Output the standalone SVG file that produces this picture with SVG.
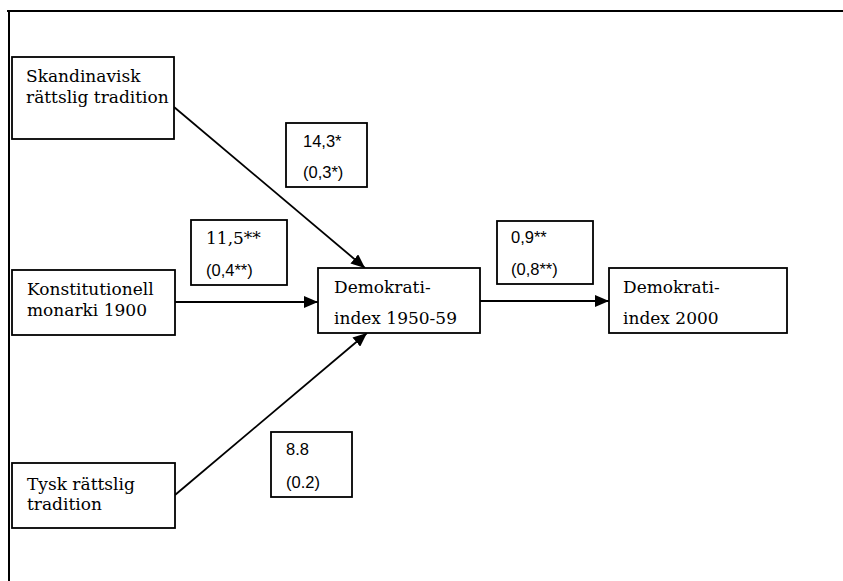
<svg xmlns="http://www.w3.org/2000/svg" width="843" height="581" viewBox="0 0 843 581">
<style>
.box{fill:#fff;stroke:#000;stroke-width:1.8}
.t{font-family:"DejaVu Serif","Liberation Serif",serif;font-size:17px;fill:#000}
.n{font-family:"Liberation Sans",Arial,sans-serif;font-size:16.5px;fill:#000}
.c{stroke:#000;stroke-width:1.8;fill:none}
</style>
<defs>
<marker id="ah" viewBox="0 0 14 12" refX="14" refY="6" markerWidth="14" markerHeight="12" markerUnits="userSpaceOnUse" orient="auto">
<path d="M0,0 L14,6 L0,12 Z" fill="#000"/>
</marker>
</defs>
<rect width="843" height="581" fill="#fff"/>
<g id="frame">
<line x1="7" y1="11" x2="843" y2="11" stroke="#000" stroke-width="2.2"/>
<line x1="9" y1="11" x2="9" y2="581" stroke="#000" stroke-width="2"/>
</g>
<g id="connectors">
<line class="c" x1="174" y1="107" x2="365" y2="268" marker-end="url(#ah)"/>
<line class="c" x1="175" y1="302" x2="318" y2="302" marker-end="url(#ah)"/>
<line class="c" x1="175" y1="495" x2="367" y2="333" marker-end="url(#ah)"/>
<line class="c" x1="480" y1="301" x2="609" y2="301" marker-end="url(#ah)"/>
</g>
<g id="skandinavisk">
<rect class="box" x="12" y="57" width="162" height="82"/>
<text class="t" x="26" y="82">Skandinavisk</text>
<text class="t" x="26" y="103">rättslig tradition</text>
</g>
<g id="konstitutionell">
<rect class="box" x="12" y="270" width="163" height="65"/>
<text class="t" x="27" y="295">Konstitutionell</text>
<text class="t" x="27" y="316">monarki 1900</text>
</g>
<g id="tysk">
<rect class="box" x="12" y="463" width="163" height="65"/>
<text class="t" x="27" y="490">Tysk rättslig</text>
<text class="t" x="27" y="510">tradition</text>
</g>
<g id="demokrati1950">
<rect class="box" x="318" y="268" width="162" height="65"/>
<text class="t" x="334" y="293">Demokrati-</text>
<text class="t" x="334" y="324">index 1950-59</text>
</g>
<g id="demokrati2000">
<rect class="box" x="609" y="268" width="178" height="65"/>
<text class="t" x="623" y="293">Demokrati-</text>
<text class="t" x="623" y="324">index 2000</text>
</g>
<g id="coef1">
<rect class="box" x="286" y="123" width="81" height="64"/>
<text class="n" x="303" y="147">14,3*</text>
<text class="n" x="303" y="178">(0,3*)</text>
</g>
<g id="coef2">
<rect class="box" x="191" y="220" width="96" height="65"/>
<text class="t" x="206" y="244">11,5**</text>
<text class="n" x="206" y="276">(0,4**)</text>
</g>
<g id="coef3">
<rect class="box" x="497" y="221" width="96" height="63"/>
<text class="n" x="511" y="243">0,9**</text>
<text class="n" x="511" y="275">(0,8**)</text>
</g>
<g id="coef4">
<rect class="box" x="271" y="432" width="81" height="65"/>
<text class="n" x="286" y="455">8.8</text>
<text class="n" x="286" y="488">(0.2)</text>
</g>
</svg>
